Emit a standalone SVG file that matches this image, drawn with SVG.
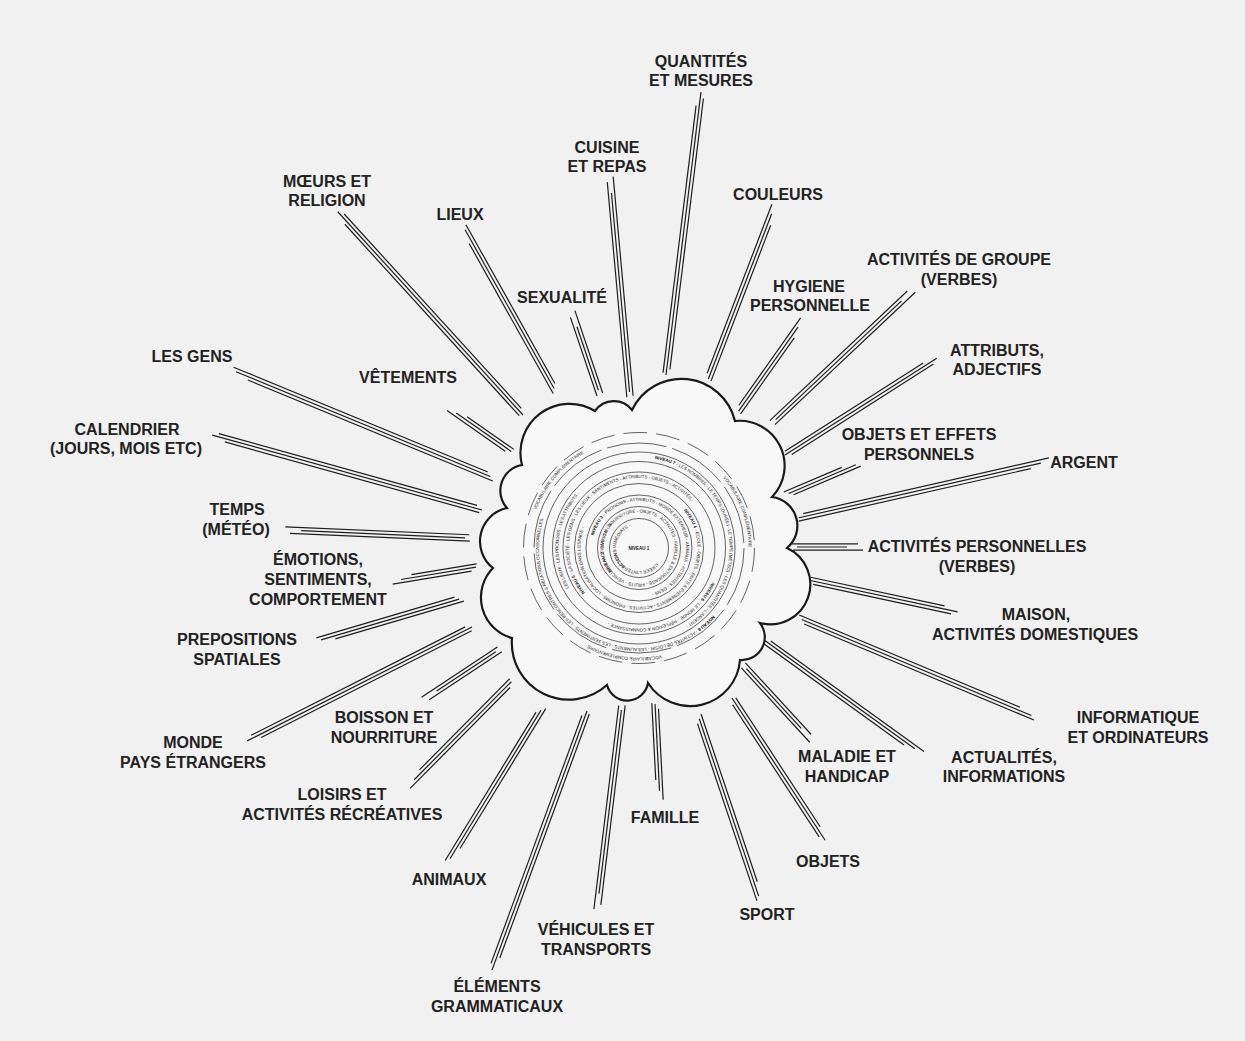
<svg xmlns="http://www.w3.org/2000/svg" width="1245" height="1041" viewBox="0 0 1245 1041">
<style>
.bg{fill:#f1f1f1}
.lbl{font-family:"Liberation Sans",Arial,sans-serif;font-weight:bold;font-size:16px;fill:#222;text-anchor:middle}
.sp line{stroke:#1e1e1e;stroke-width:1.2;stroke-linecap:butt}
.cloud{fill:#f8f8f8;stroke:#1a1a1a;stroke-width:2.2;stroke-linejoin:miter}
.ring{fill:none;stroke:#333;stroke-width:0.75}
.rt{font-family:"Liberation Sans",Arial,sans-serif;fill:#222;font-size:4.5px}
.b{font-weight:bold;fill:#111}
</style>
<defs>
<path id="r1" d="M639,525 A23,23 0 1 1 639,571 A23,23 0 1 1 639,525 A23,23 0 1 1 639,571 A23,23 0 1 1 639,525"/>
<path id="r2" d="M639,512.5 A35.5,35.5 0 1 1 639,583.5 A35.5,35.5 0 1 1 639,512.5 A35.5,35.5 0 1 1 639,583.5 A35.5,35.5 0 1 1 639,512.5"/>
<path id="r3" d="M639,501 A47,47 0 1 1 639,595 A47,47 0 1 1 639,501 A47,47 0 1 1 639,595 A47,47 0 1 1 639,501"/>
<path id="r4" d="M639,489.5 A58.5,58.5 0 1 1 639,606.5 A58.5,58.5 0 1 1 639,489.5 A58.5,58.5 0 1 1 639,606.5 A58.5,58.5 0 1 1 639,489.5"/>
<path id="r5" d="M639,478 A70,70 0 1 1 639,618 A70,70 0 1 1 639,478 A70,70 0 1 1 639,618 A70,70 0 1 1 639,478"/>
<path id="r6" d="M639,467.5 A80.5,80.5 0 1 1 639,628.5 A80.5,80.5 0 1 1 639,467.5 A80.5,80.5 0 1 1 639,628.5 A80.5,80.5 0 1 1 639,467.5"/>
<path id="r7" d="M639,457.5 A90.5,90.5 0 1 1 639,638.5 A90.5,90.5 0 1 1 639,457.5 A90.5,90.5 0 1 1 639,638.5 A90.5,90.5 0 1 1 639,457.5"/>
<path id="r8" d="M639,448 A100,100 0 1 1 639,648 A100,100 0 1 1 639,448 A100,100 0 1 1 639,648 A100,100 0 1 1 639,448"/>
<path id="r9" d="M639,438.5 A109.5,109.5 0 1 1 639,657.5 A109.5,109.5 0 1 1 639,438.5 A109.5,109.5 0 1 1 639,657.5 A109.5,109.5 0 1 1 639,438.5"/>
</defs>
<rect class="bg" x="0" y="0" width="1245" height="1041"/>

<g id="connectors" class="sp">
<g transform="translate(666,375) rotate(-82.95)"><line x1="2" y1="-3.2" x2="271" y2="-3.2"/><line x1="0" y1="0" x2="285" y2="0"/><line x1="6" y1="3.2" x2="279" y2="3.2"/></g>
<g transform="translate(630,397) rotate(-95.19)"><line x1="0" y1="-3.2" x2="216" y2="-3.2"/><line x1="5" y1="0" x2="205" y2="0"/><line x1="1" y1="3.2" x2="221" y2="3.2"/></g>
<g transform="translate(708,380) rotate(-69.05)"><line x1="6" y1="-3.2" x2="187" y2="-3.2"/><line x1="1" y1="0" x2="178" y2="0"/><line x1="0" y1="3.2" x2="167" y2="3.2"/></g>
<g transform="translate(556,392) rotate(-119.26)"><line x1="0" y1="-3.2" x2="172" y2="-3.2"/><line x1="4" y1="0" x2="186" y2="0"/><line x1="8" y1="3.2" x2="190" y2="3.2"/></g>
<g transform="translate(523,415) rotate(-132.34)"><line x1="2" y1="-3.2" x2="261" y2="-3.2"/><line x1="0" y1="0" x2="275" y2="0"/><line x1="6" y1="3.2" x2="269" y2="3.2"/></g>
<g transform="translate(600,395) rotate(-108.64)"><line x1="0" y1="-3.2" x2="83" y2="-3.2"/><line x1="5" y1="0" x2="72" y2="0"/><line x1="1" y1="3.2" x2="88" y2="3.2"/></g>
<g transform="translate(512,452) rotate(-145.07)"><line x1="6" y1="-3.2" x2="77" y2="-3.2"/><line x1="1" y1="0" x2="68" y2="0"/><line x1="0" y1="3.2" x2="57" y2="3.2"/></g>
<g transform="translate(494,478) rotate(-157.6)"><line x1="0" y1="-3.2" x2="265" y2="-3.2"/><line x1="4" y1="0" x2="279" y2="0"/><line x1="8" y1="3.2" x2="283" y2="3.2"/></g>
<g transform="translate(482,510) rotate(-164.48)"><line x1="2" y1="-3.2" x2="266" y2="-3.2"/><line x1="0" y1="0" x2="280" y2="0"/><line x1="6" y1="3.2" x2="274" y2="3.2"/></g>
<g transform="translate(470,538) rotate(-177.52)"><line x1="0" y1="-3.2" x2="180" y2="-3.2"/><line x1="5" y1="0" x2="169" y2="0"/><line x1="1" y1="3.2" x2="185" y2="3.2"/></g>
<g transform="translate(477,567) rotate(170.65)"><line x1="6" y1="-3.2" x2="86" y2="-3.2"/><line x1="1" y1="0" x2="77" y2="0"/><line x1="0" y1="3.2" x2="66" y2="3.2"/></g>
<g transform="translate(463,598) rotate(163.59)"><line x1="0" y1="-3.2" x2="134" y2="-3.2"/><line x1="4" y1="0" x2="148" y2="0"/><line x1="8" y1="3.2" x2="152" y2="3.2"/></g>
<g transform="translate(472,627) rotate(153.13)"><line x1="2" y1="-3.2" x2="238" y2="-3.2"/><line x1="0" y1="0" x2="252" y2="0"/><line x1="6" y1="3.2" x2="246" y2="3.2"/></g>
<g transform="translate(500,649) rotate(146.48)"><line x1="0" y1="-3.2" x2="87" y2="-3.2"/><line x1="5" y1="0" x2="76" y2="0"/><line x1="1" y1="3.2" x2="92" y2="3.2"/></g>
<g transform="translate(512,681) rotate(134.73)"><line x1="6" y1="-3.2" x2="148" y2="-3.2"/><line x1="1" y1="0" x2="139" y2="0"/><line x1="0" y1="3.2" x2="128" y2="3.2"/></g>
<g transform="translate(543,707) rotate(121.5)"><line x1="0" y1="-3.2" x2="164" y2="-3.2"/><line x1="4" y1="0" x2="178" y2="0"/><line x1="8" y1="3.2" x2="182" y2="3.2"/></g>
<g transform="translate(587,711) rotate(110.14)"><line x1="2" y1="-3.2" x2="262" y2="-3.2"/><line x1="0" y1="0" x2="276" y2="0"/><line x1="6" y1="3.2" x2="270" y2="3.2"/></g>
<g transform="translate(622,705) rotate(96.95)"><line x1="0" y1="-3.2" x2="201" y2="-3.2"/><line x1="5" y1="0" x2="190" y2="0"/><line x1="1" y1="3.2" x2="206" y2="3.2"/></g>
<g transform="translate(655,703) rotate(87.05)"><line x1="6" y1="-3.2" x2="97" y2="-3.2"/><line x1="1" y1="0" x2="88" y2="0"/><line x1="0" y1="3.2" x2="77" y2="3.2"/></g>
<g transform="translate(698,715) rotate(71.47)"><line x1="0" y1="-3.2" x2="177" y2="-3.2"/><line x1="4" y1="0" x2="191" y2="0"/><line x1="8" y1="3.2" x2="195" y2="3.2"/></g>
<g transform="translate(732,698) rotate(56.78)"><line x1="2" y1="-3.2" x2="156" y2="-3.2"/><line x1="0" y1="0" x2="170" y2="0"/><line x1="6" y1="3.2" x2="164" y2="3.2"/></g>
<g transform="translate(743,665) rotate(47.39)"><line x1="0" y1="-3.2" x2="97" y2="-3.2"/><line x1="5" y1="0" x2="86" y2="0"/><line x1="1" y1="3.2" x2="102" y2="3.2"/></g>
<g transform="translate(764,640) rotate(35.81)"><line x1="6" y1="-3.2" x2="195" y2="-3.2"/><line x1="1" y1="0" x2="186" y2="0"/><line x1="0" y1="3.2" x2="175" y2="3.2"/></g>
<g transform="translate(798,618) rotate(22.67)"><line x1="0" y1="-3.2" x2="239" y2="-3.2"/><line x1="4" y1="0" x2="253" y2="0"/><line x1="8" y1="3.2" x2="257" y2="3.2"/></g>
<g transform="translate(808,580) rotate(12.04)"><line x1="2" y1="-3.2" x2="139" y2="-3.2"/><line x1="0" y1="0" x2="153" y2="0"/><line x1="6" y1="3.2" x2="147" y2="3.2"/></g>
<g transform="translate(792,547) rotate(0)"><line x1="0" y1="-3.2" x2="66" y2="-3.2"/><line x1="5" y1="0" x2="55" y2="0"/><line x1="1" y1="3.2" x2="71" y2="3.2"/></g>
<g transform="translate(798,518) rotate(-12.75)"><line x1="6" y1="-3.2" x2="258" y2="-3.2"/><line x1="1" y1="0" x2="249" y2="0"/><line x1="0" y1="3.2" x2="238" y2="3.2"/></g>
<g transform="translate(785,495) rotate(-23.11)"><line x1="0" y1="-3.2" x2="63" y2="-3.2"/><line x1="4" y1="0" x2="77" y2="0"/><line x1="8" y1="3.2" x2="81" y2="3.2"/></g>
<g transform="translate(785,455) rotate(-32.54)"><line x1="2" y1="-3.2" x2="166" y2="-3.2"/><line x1="0" y1="0" x2="180" y2="0"/><line x1="6" y1="3.2" x2="174" y2="3.2"/></g>
<g transform="translate(772,423) rotate(-43.33)"><line x1="0" y1="-3.2" x2="189" y2="-3.2"/><line x1="5" y1="0" x2="178" y2="0"/><line x1="1" y1="3.2" x2="194" y2="3.2"/></g>
<g transform="translate(738,412) rotate(-54.76)"><line x1="6" y1="-3.2" x2="113" y2="-3.2"/><line x1="1" y1="0" x2="104" y2="0"/><line x1="0" y1="3.2" x2="93" y2="3.2"/></g>
</g>

<g id="center">
<path class="cloud" d="M632,410 A55,55 0 0 1 735,421 A45,45 0 0 1 772,497 A29,29 0 0 1 787,548 A40,40 0 0 1 760,623 A23,23 0 0 1 740,660 A50,50 0 0 1 648,683 A21,21 0 0 1 607,685 A57,57 0 0 1 512,638 A42,42 0 0 1 493,568 A34,34 0 0 1 507,508 A26,26 0 0 1 522,465 A49,49 0 0 1 595,411 A23,23 0 0 1 632,410 Z"/>
<g>
<circle class="ring" cx="639" cy="548" r="29.5"/>
<circle class="ring" cx="639" cy="548" r="41.5"/>
<circle class="ring" cx="639" cy="548" r="53"/>
<circle class="ring" cx="639" cy="548" r="64.5"/>
<circle class="ring" cx="639" cy="548" r="76"/>
<circle class="ring" cx="639" cy="548" r="86.5"/>
<circle class="ring" cx="639" cy="548" r="96"/>
<circle class="ring" cx="639" cy="548" r="105" stroke-dasharray="60 6"/>
<circle class="ring" cx="639" cy="548" r="115.5" stroke-dasharray="24 9"/>
</g>
<text class="rt b" x="639" y="550" text-anchor="middle" font-size="5">NIVEAU 1</text>
<text class="rt" font-size="4.3"><textPath href="#r1" startOffset="86.3">BESOINS IMMÉDIATS -</textPath></text>
<text class="rt" font-size="4.3"><textPath href="#r1" startOffset="52.2">CRÉER L'INTERACTION -</textPath></text>
<text class="rt" font-size="3.2"><textPath href="#r2" startOffset="142.5"><tspan class="b">NIVEAU 2</tspan> - MAISON - NOURRITURE - OBJETS - ACTIVITÉS - FAMILLE &amp; ENTOURAGE - FRUITS - VÉHICULES - ACTIONS - LIEUX -</textPath></text>
<text class="rt" font-size="4.4"><textPath href="#r3" startOffset="233.8"><tspan class="b">NIVEAU 3</tspan> - PRONOMS - ATTRIBUTS - MONDE EXTÉRIEUR - ANIMAUX - ACTIVITÉS - GENS -</textPath></text>
<text class="rt"><textPath href="#r4" startOffset="51"><tspan class="b">NIVEAU 4</tspan> - ÉCOLE - OBJETS - FAITS &amp; ÉVÉNEMENTS - ACTIVITÉS - PRONOMS - LOCALISATION DANS L'ESPACE -</textPath></text>
<text class="rt"><textPath href="#r5" startOffset="281"><tspan class="b">NIVEAU 5</tspan> - LA SOCIÉTÉ - LES GENS - LES LIEUX - SENTIMENTS - ATTRIBUTS - OBJETS - ACTIVITÉS -</textPath></text>
<text class="rt"><textPath href="#r6" startOffset="161.6"><tspan class="b">NIVEAU 6</tspan> - LE MONDE - RÉFLEXION &amp; CONNAISSANCE -</textPath></text>
<text class="rt"><textPath href="#r6" startOffset="337.2">LES LIEUX - LES PRONOMS - LES ATTRIBUTS -</textPath></text>
<text class="rt"><textPath href="#r7" startOffset="15.8"><tspan class="b">NIVEAU 7</tspan> - LES NOMBRES - LE TEMPS (DURÉE) - LE TEMPS (MÉTÉO) - LES QUANTITÉS - L'ARGENT -</textPath></text>
<text class="rt"><textPath href="#r8" startOffset="230.4"><tspan class="b">NIVEAU 8</tspan> - ACTIVITÉS DE LOISIR - LES ALIMENTS - LES SENTIMENTS - LES RENCONTRES &amp; RELATIONS OCCASIONNELLES</textPath></text>
<text class="rt" font-size="4.8"><textPath href="#r9" startOffset="554.2">VOCABULAIRE COMPLÉMENTAIRE</textPath></text>
<text class="rt" font-size="4.8"><textPath href="#r9" startOffset="95.6">VOCABULAIRE COMPLÉMENTAIRE</textPath></text>
<text class="rt" font-size="4.8"><textPath href="#r9" startOffset="321.1">VOCABULAIRE COMPLÉMENTAIRE</textPath></text>
</g>

<g id="n-quantites"><text class="lbl" x="701" y="67">QUANTITÉS</text><text class="lbl" x="701" y="86">ET MESURES</text></g>
<g id="n-cuisine"><text class="lbl" x="607" y="153">CUISINE</text><text class="lbl" x="607" y="172">ET REPAS</text></g>
<g id="n-couleurs"><text class="lbl" x="778" y="200">COULEURS</text></g>
<g id="n-lieux"><text class="lbl" x="460" y="220">LIEUX</text></g>
<g id="n-moeurs"><text class="lbl" x="327" y="187">MŒURS ET</text><text class="lbl" x="327" y="206">RELIGION</text></g>
<g id="n-sexualite"><text class="lbl" x="562" y="303">SEXUALITÉ</text></g>
<g id="n-vetements"><text class="lbl" x="408" y="383">VÊTEMENTS</text></g>
<g id="n-gens"><text class="lbl" x="192" y="362">LES GENS</text></g>
<g id="n-calendrier"><text class="lbl" x="127" y="435">CALENDRIER</text><text class="lbl" x="126" y="454">(JOURS, MOIS ETC)</text></g>
<g id="n-temps"><text class="lbl" x="237" y="515">TEMPS</text><text class="lbl" x="236" y="535">(MÉTÉO)</text></g>
<g id="n-emotions"><text class="lbl" x="318" y="565">ÉMOTIONS,</text><text class="lbl" x="318" y="585">SENTIMENTS,</text><text class="lbl" x="318" y="605">COMPORTEMENT</text></g>
<g id="n-prepositions"><text class="lbl" x="237" y="645">PREPOSITIONS</text><text class="lbl" x="237" y="665">SPATIALES</text></g>
<g id="n-boisson"><text class="lbl" x="384" y="723">BOISSON ET</text><text class="lbl" x="384" y="743">NOURRITURE</text></g>
<g id="n-monde"><text class="lbl" x="193" y="748">MONDE</text><text class="lbl" x="193" y="768">PAYS ÉTRANGERS</text></g>
<g id="n-loisirs"><text class="lbl" x="342" y="800">LOISIRS ET</text><text class="lbl" x="342" y="820">ACTIVITÉS RÉCRÉATIVES</text></g>
<g id="n-animaux"><text class="lbl" x="449" y="885">ANIMAUX</text></g>
<g id="n-elements"><text class="lbl" x="497" y="992">ÉLÉMENTS</text><text class="lbl" x="497" y="1012">GRAMMATICAUX</text></g>
<g id="n-vehicules"><text class="lbl" x="596" y="935">VÉHICULES ET</text><text class="lbl" x="596" y="955">TRANSPORTS</text></g>
<g id="n-famille"><text class="lbl" x="665" y="823">FAMILLE</text></g>
<g id="n-sport"><text class="lbl" x="767" y="920">SPORT</text></g>
<g id="n-objets"><text class="lbl" x="828" y="867">OBJETS</text></g>
<g id="n-maladie"><text class="lbl" x="847" y="762">MALADIE ET</text><text class="lbl" x="847" y="782">HANDICAP</text></g>
<g id="n-actualites"><text class="lbl" x="1004" y="763">ACTUALITÉS,</text><text class="lbl" x="1004" y="782">INFORMATIONS</text></g>
<g id="n-informatique"><text class="lbl" x="1138" y="723">INFORMATIQUE</text><text class="lbl" x="1138" y="743">ET ORDINATEURS</text></g>
<g id="n-maison"><text class="lbl" x="1036" y="620">MAISON,</text><text class="lbl" x="1035" y="640">ACTIVITÉS DOMESTIQUES</text></g>
<g id="n-act-perso"><text class="lbl" x="977" y="552">ACTIVITÉS PERSONNELLES</text><text class="lbl" x="977" y="572">(VERBES)</text></g>
<g id="n-argent"><text class="lbl" x="1084" y="468">ARGENT</text></g>
<g id="n-objets-effets"><text class="lbl" x="919" y="440">OBJETS ET EFFETS</text><text class="lbl" x="919" y="460">PERSONNELS</text></g>
<g id="n-attributs"><text class="lbl" x="997" y="356">ATTRIBUTS,</text><text class="lbl" x="997" y="375">ADJECTIFS</text></g>
<g id="n-act-groupe"><text class="lbl" x="959" y="265">ACTIVITÉS DE GROUPE</text><text class="lbl" x="959" y="285">(VERBES)</text></g>
<g id="n-hygiene"><text class="lbl" x="809" y="292">HYGIENE</text><text class="lbl" x="810" y="311">PERSONNELLE</text></g>
</svg>
